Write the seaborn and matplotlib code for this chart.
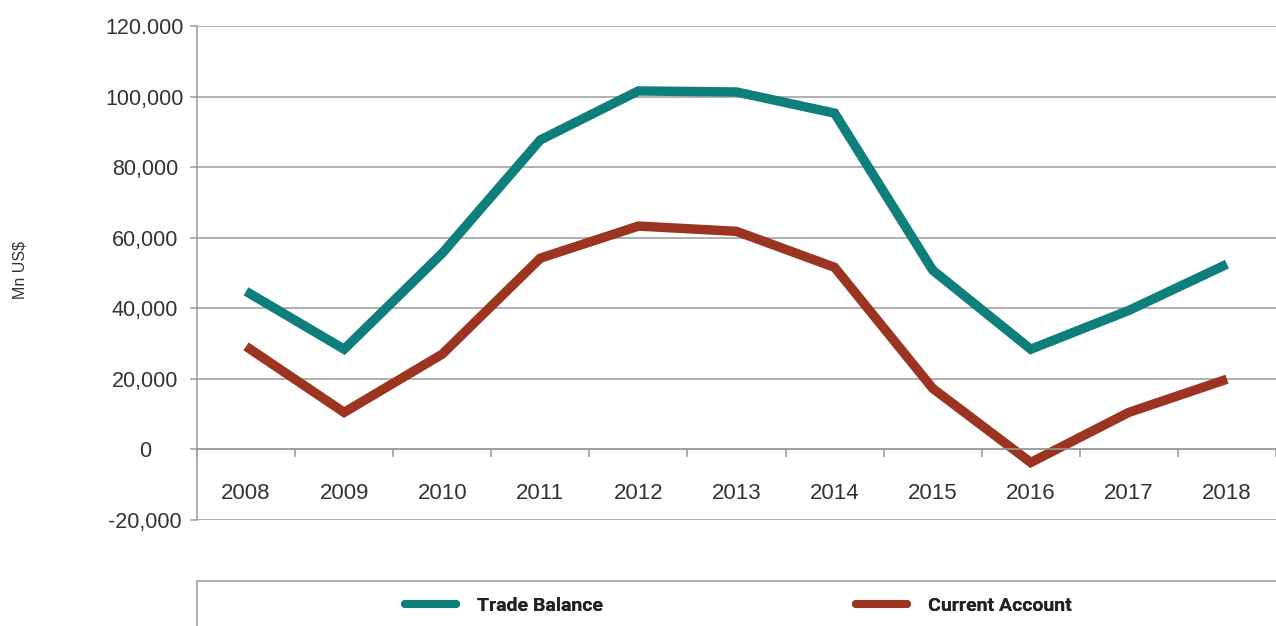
import matplotlib
matplotlib.use("Agg")
import matplotlib.pyplot as plt
from matplotlib.lines import Line2D
import seaborn as sns
import pandas as pd

# Annual values, millions of US$
years = [2008, 2009, 2010, 2011, 2012, 2013, 2014, 2015, 2016, 2017, 2018]
trade_balance = [44800, 28400, 55600, 87700, 101600, 101300, 95300, 50800, 28400, 39400, 52500]
current_account = [29200, 10500, 27000, 54200, 63300, 61800, 51600, 17300, -3700, 10500, 19900]

series_names = ["Trade Balance", "Current Account"]
series_colors = ["#0f7f7b", "#9b3522"]

y_ticks = [-20000, 0, 20000, 40000, 60000, 80000, 100000, 120000]
y_tick_labels = ["-20,000", "0", "20,000", "40,000", "60,000", "80,000", "100,000", "120.000"]
y_label = "Mn US$"

df = pd.DataFrame({
    "year": years * 2,
    "value": trade_balance + current_account,
    "series": [series_names[0]] * len(years) + [series_names[1]] * len(years),
})

sns.set_theme(style="white")
plt.rcParams["font.family"] = ["Liberation Sans", "DejaVu Sans"]

grey = "#9a9a9a"
text_col = "#333333"

fig = plt.figure(figsize=(12.76, 6.26), dpi=100)
ax = fig.add_axes([197 / 1276, 1 - 520 / 626, (1276 - 197) / 1276, (520 - 26) / 626])

sns.lineplot(data=df, x="year", y="value", hue="series", hue_order=series_names,
             palette=series_colors, linewidth=6.8, ax=ax, legend=False)
for ln in ax.get_lines():
    ln.set_solid_joinstyle("miter")
    ln.set_solid_capstyle("butt")

ax.set_xlim(years[0] - 0.5, years[-1] + 0.5)
ax.set_ylim(y_ticks[0], y_ticks[-1])

# horizontal grid
ax.set_yticks(y_ticks)
ax.set_yticklabels(y_tick_labels)
ax.yaxis.grid(True, color=grey, linewidth=1.1)
ax.xaxis.grid(False)
ax.tick_params(axis="y", which="major", left=True, length=5, width=1.1, color=grey,
               pad=32.4, labelsize=15.5, labelcolor=text_col)
for lab in ax.get_yticklabels():
    lab.set_horizontalalignment("center")

# category axis sitting on the zero line
for s in ["top", "right"]:
    ax.spines[s].set_visible(False)
ax.spines["left"].set_color(grey)
ax.spines["left"].set_linewidth(1.1)
ax.spines["bottom"].set_position(("data", 0))
ax.spines["bottom"].set_color(grey)
ax.spines["bottom"].set_linewidth(1.1)
ax.set_xticks(years)
ax.set_xticklabels([str(y) for y in years])
ax.set_xticks([y - 0.5 for y in years] + [years[-1] + 0.5], minor=True)
ax.tick_params(axis="x", which="major", length=0, pad=24, labelsize=16, labelcolor=text_col)
ax.tick_params(axis="x", which="minor", bottom=True, length=6, width=1.1, color=grey)
ax.set_xlabel("")
ax.set_ylabel("")

fig.text(20 / 1276, 1 - 270 / 626, y_label, rotation=90, ha="center", va="center",
         fontsize=11.5, color=text_col)

# legend frame: top rule and left rule
fig.add_artist(Line2D([197 / 1276, 1.0], [1 - 581 / 626] * 2, transform=fig.transFigure,
                      color=grey, linewidth=1.1))
fig.add_artist(Line2D([197 / 1276] * 2, [1 - 581 / 626, 0.0], transform=fig.transFigure,
                      color=grey, linewidth=1.1))

legend_x = [405 / 1276, 856 / 1276]
for name, color, lx in zip(series_names, series_colors, legend_x):
    h = Line2D([], [], color=color, linewidth=5.8, solid_capstyle="round")
    leg = fig.legend([h], [name], loc="center left", bbox_to_anchor=(lx, 1 - 606 / 626),
                     frameon=False, borderpad=0, borderaxespad=0, handlelength=2.6,
                     handletextpad=1.1,
                     prop={"family": ["Roboto", "DejaVu Sans"],
                           "weight": "bold", "size": 14})
    for t in leg.get_texts():
        t.set_color("#222222")
    fig.add_artist(leg)

fig.savefig("out.png", dpi=100)
